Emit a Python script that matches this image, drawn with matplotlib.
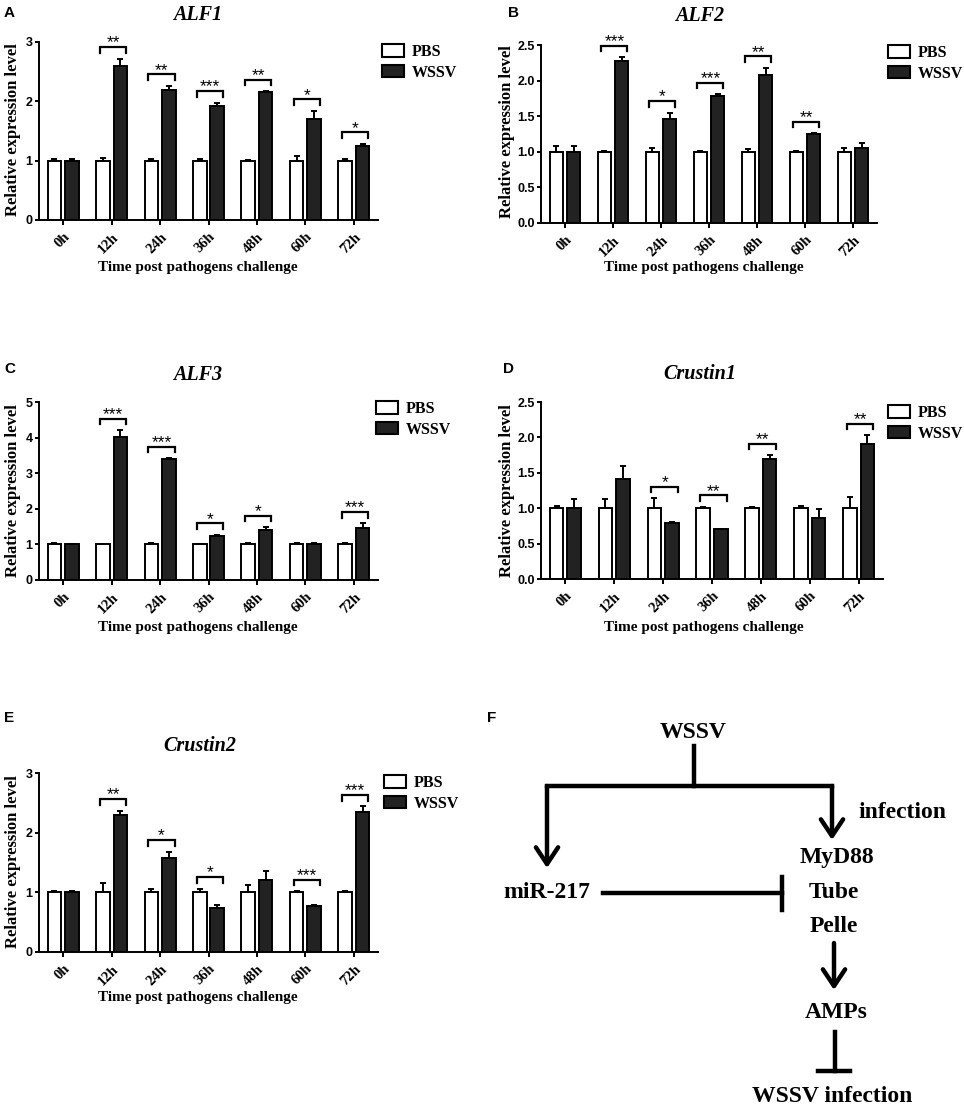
import matplotlib
matplotlib.use("Agg")
import matplotlib.pyplot as plt
import numpy as np
from matplotlib.patches import Patch

W, H = 964, 1110
SERIF = "Liberation Serif"
SANS = "Liberation Sans"
DARK = "#222222"

times = ["0h", "12h", "24h", "36h", "48h", "60h", "72h"]

# ALF1
alf1_pbs = [1.0, 1.0, 1.0, 1.0, 1.0, 1.0, 1.0]
alf1_pbs_err = [0.02, 0.05, 0.03, 0.03, 0.01, 0.08, 0.03]
alf1_wssv = [1.0, 2.60, 2.19, 1.92, 2.15, 1.70, 1.24]
alf1_wssv_err = [0.02, 0.12, 0.07, 0.06, 0.02, 0.14, 0.04]
alf1_sig = ["", "**", "**", "***", "**", "*", "*"]

# ALF2
alf2_pbs = [1.0, 1.0, 1.0, 1.0, 1.0, 1.0, 1.0]
alf2_pbs_err = [0.08, 0.01, 0.05, 0.01, 0.04, 0.01, 0.05]
alf2_wssv = [1.0, 2.28, 1.46, 1.78, 2.08, 1.25, 1.05]
alf2_wssv_err = [0.08, 0.05, 0.09, 0.03, 0.10, 0.01, 0.07]
alf2_sig = ["", "***", "*", "***", "**", "**", ""]

# ALF3
alf3_pbs = [1.0, 1.0, 1.0, 1.0, 1.0, 1.0, 1.0]
alf3_pbs_err = [0.03, 0.02, 0.03, 0.0, 0.03, 0.03, 0.05]
alf3_wssv = [1.0, 4.01, 3.40, 1.24, 1.40, 1.0, 1.47]
alf3_wssv_err = [0.02, 0.20, 0.02, 0.03, 0.08, 0.03, 0.12]
alf3_sig = ["", "***", "***", "*", "*", "", "***"]

# Crustin1
cru1_pbs = [1.0, 1.0, 1.0, 1.0, 1.0, 1.0, 1.0]
cru1_pbs_err = [0.03, 0.13, 0.14, 0.02, 0.01, 0.03, 0.16]
cru1_wssv = [1.0, 1.41, 0.79, 0.71, 1.70, 0.86, 1.90]
cru1_wssv_err = [0.13, 0.19, 0.01, 0.0, 0.05, 0.13, 0.13]
cru1_sig = ["", "", "*", "**", "**", "", "**"]

# Crustin2
cru2_pbs = [1.0, 1.0, 1.0, 1.0, 1.0, 1.0, 1.0]
cru2_pbs_err = [0.02, 0.15, 0.06, 0.06, 0.13, 0.02, 0.02]
cru2_wssv = [1.0, 2.29, 1.57, 0.74, 1.21, 0.77, 2.34]
cru2_wssv_err = [0.02, 0.08, 0.11, 0.05, 0.15, 0.01, 0.10]
cru2_sig = ["", "**", "*", "*", "", "***", "***"]


def fx(x):
    return x / W


def fy(y):
    return 1 - y / H


def draw_bars(ax, pbs, pbs_err, wssv, wssv_err, sig, ymax, yticks, fmt):
    x = np.arange(len(times))
    ax.bar(x - 0.18, pbs, 0.28, color="white", edgecolor="black", lw=1.4,
           yerr=[np.zeros(len(pbs)), pbs_err], capsize=2.5,
           error_kw=dict(elinewidth=1.4, capthick=1.4, ecolor="black"))
    ax.bar(x + 0.18, wssv, 0.28, color=DARK, edgecolor="black", lw=1.4,
           yerr=[np.zeros(len(wssv)), wssv_err], capsize=2.5,
           error_kw=dict(elinewidth=1.4, capthick=1.4, ecolor="black"))
    # significance brackets
    for i, s in enumerate(sig):
        if not s:
            continue
        top = max(pbs[i] + pbs_err[i], wssv[i] + wssv_err[i])
        yb = top + 0.065 * ymax
        drop = 0.032 * ymax
        ax.plot([i - 0.24, i - 0.24, i + 0.30, i + 0.30],
                [yb - drop, yb, yb, yb - drop], color="black", lw=1.6,
                clip_on=False, solid_joinstyle="miter")
        ax.annotate(s, (i + 0.03, yb), xytext=(0, -2.5), textcoords="offset points",
                    ha="center", va="bottom", fontsize=12.5, family=SANS)
    ax.set_xlim(-0.5, 6.5)
    ax.set_ylim(0, ymax)
    ax.set_xticks(x)
    ax.set_xticklabels(times, rotation=45, ha="right", va="top",
                       rotation_mode="anchor", family=SERIF,
                       fontweight="bold", fontsize=10.5)
    ax.set_yticks(yticks)
    ax.set_yticklabels([fmt.format(v) for v in yticks], family=SANS,
                       fontweight="bold", fontsize=9)
    for side in ["top", "right"]:
        ax.spines[side].set_visible(False)
    for side in ["left", "bottom"]:
        ax.spines[side].set_linewidth(1.4)
    ax.tick_params(axis="y", length=3, width=1.4, pad=1.5)
    ax.tick_params(axis="x", length=3.5, width=1.4, pad=4)


fig = plt.figure(figsize=(W / 100, H / 100), dpi=100)

panels = [
    # letter, title, data, ymax, ticks, fmt, axes box (l, t, r, b), legend pos,
    # title pos, ylabel pos, xlabel pos, letter pos
    ("A", "ALF1", (alf1_pbs, alf1_pbs_err, alf1_wssv, alf1_wssv_err, alf1_sig),
     3, [0, 1, 2, 3], "{:d}", (39, 42, 378, 220), (382, 44), (198, 15),
     (13, 130), (198, 267), (4, 13)),
    ("B", "ALF2", (alf2_pbs, alf2_pbs_err, alf2_wssv, alf2_wssv_err, alf2_sig),
     2.5, [0, 0.5, 1.0, 1.5, 2.0, 2.5], "{:.1f}", (541, 45, 877, 223), (888, 45),
     (700, 16), (507, 132), (704, 267), (508, 13)),
    ("C", "ALF3", (alf3_pbs, alf3_pbs_err, alf3_wssv, alf3_wssv_err, alf3_sig),
     5, [0, 1, 2, 3, 4, 5], "{:d}", (39, 402, 378, 580), (376, 401), (198, 375),
     (13, 491), (198, 627), (4, 369)),
    ("D", "Crustin1", (cru1_pbs, cru1_pbs_err, cru1_wssv, cru1_wssv_err, cru1_sig),
     2.5, [0, 0.5, 1.0, 1.5, 2.0, 2.5], "{:.1f}", (541, 402, 883, 579), (888, 405),
     (700, 374), (507, 491), (704, 627), (503, 369)),
    ("E", "Crustin2", (cru2_pbs, cru2_pbs_err, cru2_wssv, cru2_wssv_err, cru2_sig),
     3, [0, 1, 2, 3], "{:d}", (39, 773, 378, 952), (384, 775), (200, 746),
     (13, 862), (198, 998), (4, 718)),
]

for (letter, title, data, ymax, ticks, fmt, box, leg, tpos, ylpos,
     xlpos, lpos) in panels:
    l, t, r, b = box
    ax = fig.add_axes([fx(l), fy(b), fx(r) - fx(l), fy(t) - fy(b)])
    draw_bars(ax, *data, ymax, ticks, fmt)
    handles = [Patch(facecolor="white", edgecolor="black", lw=1.5, label="PBS"),
               Patch(facecolor=DARK, edgecolor="black", lw=1.5, label="WSSV")]
    ax.legend(handles=handles, loc="upper left", bbox_to_anchor=(fx(leg[0]), fy(leg[1])),
              bbox_transform=fig.transFigure, frameon=False, borderpad=0,
              borderaxespad=0, handlelength=1.4, handleheight=0.8,
              handletextpad=0.45, labelspacing=0.3,
              prop=dict(family=SERIF, weight="bold", size=11.5))
    fig.text(fx(tpos[0]), fy(tpos[1]), title, ha="center", va="center",
             family=SERIF, style="italic", fontweight="bold", fontsize=14.5)
    fig.text(fx(ylpos[0]), fy(ylpos[1]), "Relative expression level", rotation=90,
             ha="center", va="center", family=SERIF, fontweight="bold", fontsize=12)
    fig.text(fx(xlpos[0]), fy(xlpos[1]), "Time post pathogens challenge",
             ha="center", va="center", family=SERIF, fontweight="bold", fontsize=11)
    fig.text(fx(lpos[0]), fy(lpos[1]), letter, ha="left", va="center",
             family=SANS, fontweight="bold", fontsize=11)

# Panel F: pathway diagram, drawn in pixel coordinates
axf = fig.add_axes([fx(480), 0, 1 - fx(480), fy(700)])
axf.set_xlim(480, W)
axf.set_ylim(H, 700)
axf.axis("off")
fig.text(fx(487), fy(718), "F", ha="left", va="center", family=SANS,
         fontweight="bold", fontsize=11)

lw = 3.2
txt = dict(family=SERIF, fontweight="bold", fontsize=17, ha="center", va="center")
arrow = dict(arrowstyle="->,head_length=1.2,head_width=0.8", lw=lw,
             color="black", shrinkA=0, shrinkB=0)

axf.text(693, 733, "WSSV", **txt)
axf.plot([694, 694], [746, 786], color="black", lw=lw)
axf.plot([547, 832], [786, 786], color="black", lw=lw, solid_capstyle="projecting")
axf.annotate("", xy=(547, 868), xytext=(547, 786), arrowprops=arrow)
axf.annotate("", xy=(832, 840), xytext=(832, 786), arrowprops=arrow)
axf.text(858, 813, "infection", **dict(txt, ha="left"))
axf.text(837, 858, "MyD88", **txt)
axf.text(834, 893, "Tube", **txt)
axf.text(834, 927, "Pelle", **txt)
axf.text(547, 893, "miR-217", **txt)
axf.plot([603, 782], [893, 893], color="black", lw=lw)
axf.plot([782, 782], [877, 910], color="black", lw=lw)
axf.annotate("", xy=(834, 990), xytext=(834, 943), arrowprops=arrow)
axf.text(836, 1012, "AMPs", **txt)
axf.plot([835, 835], [1032, 1071], color="black", lw=lw)
axf.plot([818, 850], [1071, 1071], color="black", lw=lw)
axf.text(832, 1097, "WSSV infection", **txt)

fig.savefig("out.png", dpi=100)
